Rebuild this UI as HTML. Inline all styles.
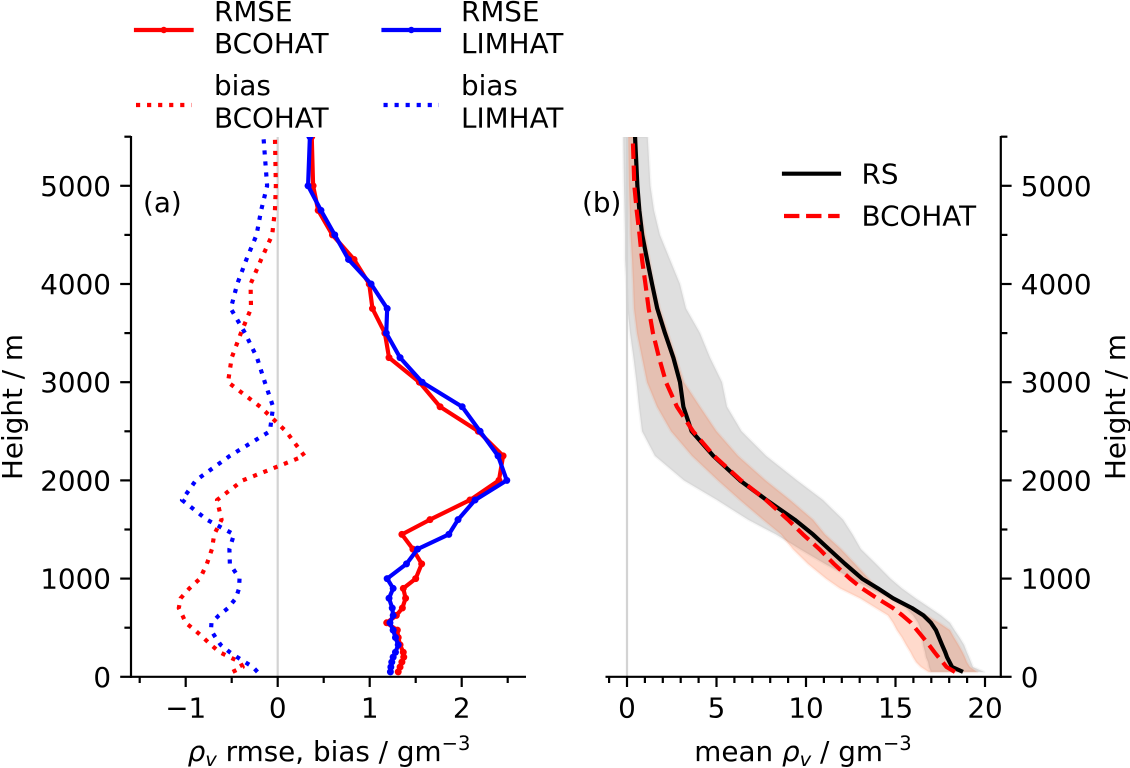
<!DOCTYPE html>
<html>
<head>
<meta charset="utf-8">
<title>Water vapour density profiles</title>
<style>
html,body{margin:0;padding:0;background:#fff;width:1130px;height:768px;overflow:hidden}
svg{display:block}
text{font-family:"DejaVu Sans","Liberation Sans",sans-serif;font-size:27.8px;fill:#000}
</style>
</head>
<body>
<svg id="figure" xmlns="http://www.w3.org/2000/svg" width="1130" height="768" viewBox="0 0 1130 768">
  <defs>
    <clipPath id="clip-left"><rect x="131" y="137" width="395" height="540"/></clipPath>
    <clipPath id="clip-right"><rect x="605.5" y="137" width="395.5" height="540"/></clipPath>
  </defs>
  <g id="panel-a">
    <g id="marks-a" clip-path="url(#clip-left)"></g>
    <g id="axes-a"></g>
    <text x="143" y="212">(a)</text>
    <text x="329" y="761" text-anchor="middle"><tspan font-style="italic">ρ</tspan><tspan font-style="italic" font-size="19.5" dy="5">v</tspan><tspan dy="-5"> rmse, bias / gm</tspan><tspan font-size="19.5" dy="-11">−3</tspan></text>
    <text transform="translate(22,407) rotate(-90)" text-anchor="middle">Height / m</text>
  </g>
  <g id="panel-b">
    <g id="marks-b" clip-path="url(#clip-right)"></g>
    <g id="axes-b"></g>
    <text x="582" y="212">(b)</text>
    <text x="803" y="761" text-anchor="middle">mean <tspan font-style="italic">ρ</tspan><tspan font-style="italic" font-size="19.5" dy="5">v</tspan><tspan dy="-5"> / gm</tspan><tspan font-size="19.5" dy="-11">−3</tspan></text>
    <text transform="translate(1125,407) rotate(-90)" text-anchor="middle">Height / m</text>
  </g>
  <g>
    <g>
      <line x1="136" y1="30" x2="191.6" y2="30" stroke="#f00" stroke-width="4.17" stroke-linecap="square"/>
      <circle cx="163.8" cy="30" r="3.2" fill="#f00"/>
      <text x="214" y="21">RMSE</text><text x="214" y="53">BCOHAT</text>
    </g>
    <g>
      <line x1="383.5" y1="30" x2="439" y2="30" stroke="#00f" stroke-width="4.17" stroke-linecap="square"/>
      <circle cx="411.3" cy="30" r="3.2" fill="#00f"/>
      <text x="461" y="21">RMSE</text><text x="461" y="53">LIMHAT</text>
    </g>
    <g>
      <line x1="136" y1="105" x2="191.6" y2="105" stroke="#f00" stroke-width="4.17" stroke-dasharray="4.17 6.88"/>
      <text x="214" y="95">bias</text><text x="214" y="127.5">BCOHAT</text>
    </g>
    <g>
      <line x1="383.5" y1="105" x2="439" y2="105" stroke="#00f" stroke-width="4.17" stroke-dasharray="4.17 6.88"/>
      <text x="461" y="95">bias</text><text x="461" y="127.5">LIMHAT</text>
    </g>
  </g>
  <g>
    <g>
      <line x1="784" y1="173.7" x2="839" y2="173.7" stroke="#000" stroke-width="4.17" stroke-linecap="square"/>
      <text x="861.5" y="183.3">RS</text>
    </g>
    <g>
      <line x1="784" y1="216" x2="839.6" y2="216" stroke="#f00" stroke-width="4.17" stroke-dasharray="15.4 6.67"/>
      <text x="861.5" y="225.7">BCOHAT</text>
    </g>
  </g>
</svg>
<script>
const heights = [50,100,150,200,250,325,400,475,550,625,700,800,900,1000,1150,1300,1450,1600,1800,2000,2250,2500,2750,3000,3250,3500,3750,4000,4250,4500,4750,5000,5500];
const rmseBcohat = [1.31,1.33,1.35,1.37,1.365,1.33,1.31,1.30,1.185,1.29,1.355,1.39,1.365,1.50,1.565,1.47,1.35,1.655,2.09,2.405,2.45,2.18,1.765,1.54,1.21,1.165,1.03,0.995,0.83,0.595,0.44,0.385,0.37];
const rmseLimhat = [1.225,1.23,1.24,1.255,1.28,1.31,1.28,1.255,1.22,1.255,1.245,1.21,1.255,1.19,1.40,1.52,1.86,1.96,2.145,2.49,2.395,2.20,2.005,1.57,1.33,1.18,1.19,1.015,0.77,0.62,0.47,0.33,0.35];
const biasBcohat = [-0.49,-0.38,-0.41,-0.52,-0.63,-0.725,-0.81,-0.90,-1.0,-1.035,-1.075,-1.055,-0.96,-0.845,-0.77,-0.715,-0.69,-0.61,-0.66,-0.38,0.29,0.09,-0.19,-0.54,-0.50,-0.40,-0.29,-0.295,-0.18,-0.06,-0.03,-0.02,-0.03];
const biasLimhat = [-0.22,-0.27,-0.355,-0.44,-0.52,-0.62,-0.675,-0.725,-0.72,-0.64,-0.54,-0.455,-0.42,-0.415,-0.52,-0.525,-0.475,-0.77,-1.04,-0.89,-0.52,-0.085,-0.05,-0.14,-0.225,-0.355,-0.51,-0.44,-0.34,-0.23,-0.18,-0.115,-0.155];
const rsMean = [18.77,18.16,18.02,17.88,17.78,17.6,17.43,17.26,16.98,16.56,15.92,14.86,14.02,13.13,12.18,11.28,10.39,9.37,7.8,6.31,4.82,3.61,3.15,2.96,2.59,2.12,1.69,1.40,1.12,0.85,0.69,0.58,0.45];
const bcohatMean = [18.32,17.85,17.63,17.40,17.18,16.87,16.54,16.2,15.87,15.39,14.86,13.97,13.13,12.45,11.56,10.75,9.83,8.99,7.77,6.37,4.86,3.69,2.79,2.18,1.79,1.45,1.21,1.03,0.84,0.70,0.54,0.41,0.32];
const rsLower = [16.98,16.87,16.82,16.7,16.65,16.54,16.48,16.42,16.26,15.98,15.59,14.69,13.58,12.57,11.06,9.66,8.32,6.76,5.03,3.18,1.56,0.84,0.67,0.53,0.36,0.17,0.03,-0.03,-0.11,-0.11,-0.14,-0.17,-0.21];
const rsUpper = [19.94,19.33,19.22,19.11,18.99,18.83,18.58,18.3,18.04,17.54,16.93,16.12,15.36,14.72,13.91,13.07,12.6,12.07,10.95,9.5,7.77,6.4,5.59,5.31,4.64,4.08,3.3,2.96,2.4,1.84,1.51,1.31,1.16];
const bcohatLower = [16.84,16.42,16.15,15.98,15.84,15.59,15.36,15.08,14.86,14.58,13.91,13.02,11.9,11.12,10.11,9.27,8.6,7.6,6.31,5.08,3.63,2.46,1.68,1.12,0.84,0.56,0.39,0.34,0.28,0.2,0.16,0.11,0.07];
const bcohatUpper = [19.55,19.16,18.99,18.88,18.75,18.52,18.27,18.04,17.43,16.73,15.98,14.92,14.02,13.49,12.74,11.96,11.06,10.39,9.11,7.74,6.2,5.0,4.08,3.18,2.74,2.29,1.84,1.51,1.26,1.01,0.78,0.61,0.54];
const yTickValues = [0,1000,2000,3000,4000,5000];
const yTickLabels = ['0','1000','2000','3000','4000','5000'];
const yMinorValues = [500,1500,2500,3500,4500,5500];
const xTicksA = [-1,0,1,2];
const xTickLabelsA = ['−1','0','1','2'];
const xMinorA = [-1.5,-0.5,0.5,1.5,2.5];
const xTicksB = [0,5,10,15,20];
const xTickLabelsB = ['0','5','10','15','20'];
const xMinorB = [-1,1,2,3,4,6,7,8,9,11,12,13,14,16,17,18,19];

function yScale(h){ return 676.8 - h * 0.0982; }
function xScaleA(v){ return 277.7 + v * 92; }
function xScaleB(v){ return 627 + v * 17.9; }

const NS = 'http://www.w3.org/2000/svg';
const marksA = document.getElementById('marks-a');
const marksB = document.getElementById('marks-b');
const axesA = document.getElementById('axes-a');
const axesB = document.getElementById('axes-b');

function make(parent, tag, attrs){
  const el = document.createElementNS(NS, tag);
  for (const k in attrs) el.setAttribute(k, attrs[k]);
  parent.appendChild(el);
  return el;
}
function pts(xs, scale){
  return xs.map(function(v, i){ return scale(v).toFixed(2) + ',' + yScale(heights[i]).toFixed(2); }).join(' ');
}
function drawLine(parent, xs, scale, color, dash, name){
  const attrs = {points: pts(xs, scale), fill: 'none', stroke: color, 'stroke-width': 4.17, 'stroke-linejoin': 'round'};
  if (dash) attrs['stroke-dasharray'] = dash;
  const el = make(parent, 'polyline', attrs);
  
  
}
function drawPoints(parent, xs, scale, color, name){
  xs.forEach(function(v, i){
    const c = make(parent, 'circle', {cx: scale(v), cy: yScale(heights[i]), r: 3.5, fill: color});
    
    
  });
}
function drawBand(parent, lower, upper, color, opacity, edgeOpacity, name){
  const back = upper.slice().reverse().map(function(v, i){
    return xScaleB(v).toFixed(2) + ',' + yScale(heights[heights.length - 1 - i]).toFixed(2);
  }).join(' ');
  const el = make(parent, 'polygon', {points: pts(lower, xScaleB) + ' ' + back, fill: color, 'fill-opacity': opacity, stroke: color, 'stroke-opacity': edgeOpacity, 'stroke-width': 2.8, 'stroke-linejoin': 'round'});
  
  
}
function tick(parent, x1, y1, x2, y2, name){
  const t = make(parent, 'line', {x1: x1, y1: y1, x2: x2, y2: y2, stroke: '#000', 'stroke-width': 2.2});
  
  
}
function label(parent, x, y, anchor, str, name){
  const t = make(parent, 'text', {x: x, y: y, 'text-anchor': anchor});
  t.textContent = str;
  
  
}
function drawXAxis(parent, left, right, scale, majors, labels, minors){
  tick(parent, left, 676.8, right, 676.8, 'x-axis-spine');
  majors.forEach(function(v, i){
    tick(parent, scale(v), 676.8, scale(v), 687, 'x-major-tick');
    label(parent, scale(v), 717.5, 'middle', labels[i], 'x-tick-label');
  });
  minors.forEach(function(v){
    tick(parent, scale(v), 676.8, scale(v), 683, 'x-minor-tick');
  });
}
function drawYAxis(parent, spineX, dir){
  tick(parent, spineX, 136, spineX, 677.9, 'y-axis-spine');
  yTickValues.forEach(function(v, i){
    tick(parent, spineX, yScale(v), spineX + dir * 10.8, yScale(v), 'y-major-tick');
    label(parent, spineX + dir * 20, yScale(v) + 10, dir < 0 ? 'end' : 'start', yTickLabels[i], 'y-tick-label');
  });
  yMinorValues.forEach(function(v){
    tick(parent, spineX, yScale(v), spineX + dir * 6.6, yScale(v), 'y-minor-tick');
  });
}

/* panel a */
const zeroA = make(marksA, 'line', {x1: xScaleA(0), y1: 137, x2: xScaleA(0), y2: 677, stroke: '#d3d3d3', 'stroke-width': 2.2});


drawLine(marksA, rmseBcohat, xScaleA, '#f00', null, 'rmse-bcohat-line');
drawPoints(marksA, rmseBcohat, xScaleA, '#f00', 'rmse-bcohat-point');
drawLine(marksA, rmseLimhat, xScaleA, '#00f', null, 'rmse-limhat-line');
drawPoints(marksA, rmseLimhat, xScaleA, '#00f', 'rmse-limhat-point');
drawLine(marksA, biasBcohat, xScaleA, '#f00', '4.17 6.88', 'bias-bcohat-line');
drawLine(marksA, biasLimhat, xScaleA, '#00f', '4.17 6.88', 'bias-limhat-line');
drawXAxis(axesA, 130, 526, xScaleA, xTicksA, xTickLabelsA, xMinorA);
drawYAxis(axesA, 131, -1);

/* panel b */
drawBand(marksB, rsLower, rsUpper, '#808080', 0.25, 0.07, 'rs-spread-band');
drawBand(marksB, bcohatLower, bcohatUpper, '#ff4500', 0.2, 0.07, 'bcohat-spread-band');
const zeroB = make(marksB, 'line', {x1: xScaleB(0), y1: 137, x2: xScaleB(0), y2: 677, stroke: '#d3d3d3', 'stroke-width': 2.2});


drawLine(marksB, rsMean, xScaleB, '#000', null, 'rs-mean-line');
drawLine(marksB, bcohatMean, xScaleB, '#f00', '15.4 6.67', 'bcohat-mean-line');
drawXAxis(axesB, 605.5, 1002, xScaleB, xTicksB, xTickLabelsB, xMinorB);
drawYAxis(axesB, 1000.8, 1);
</script>
</body>
</html>
